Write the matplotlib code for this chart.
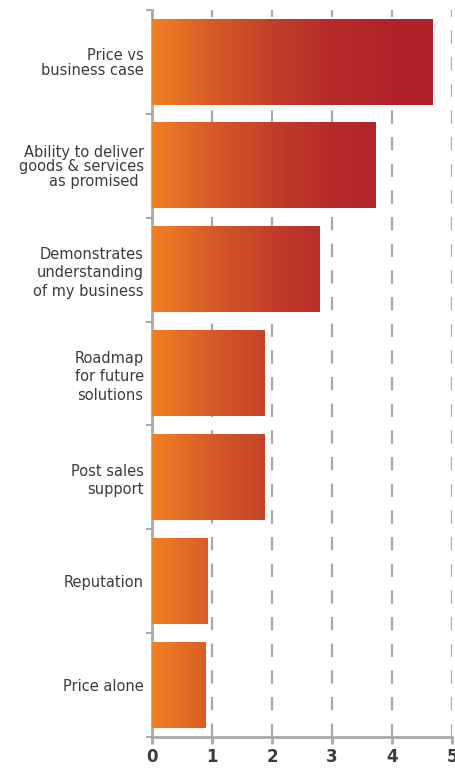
import numpy as np
import matplotlib
matplotlib.use('Agg')
import matplotlib.pyplot as plt
from matplotlib.colors import LinearSegmentedColormap

# dados
categorias = ['Price vs\nbusiness case',
              'Ability to deliver\ngoods & services\nas promised ',
              'Demonstrates\nunderstanding\nof my business',
              'Roadmap\nfor future\nsolutions',
              'Post sales\nsupport',
              'Reputation',
              'Price alone']
valores = [4.68, 3.73, 2.8, 1.87, 1.88, 0.92, 0.9]
ticks_x = [0, 1, 2, 3, 4, 5]

cinza = '#A7A9AC'
texto = '#3C3C3C'

# degrade laranja -> vermelho escuro (posicao absoluta no eixo)
cmap = LinearSegmentedColormap.from_list('laranja', [
    (0.0, '#F28023'), (0.21, '#D65A26'), (0.43, '#C23E29'),
    (0.64, '#B52B29'), (0.85, '#B02429'), (1.0, '#AE2228')])
gmax = 4.7

fig = plt.figure(figsize=(4.55, 7.73), dpi=100)
ax = fig.add_axes([152 / 455, 36 / 773, 300 / 455, 727 / 773])

altura = 0.82
for i, v in enumerate(valores):
    grad = np.linspace(0, v, 256).reshape(1, -1)
    ax.imshow(grad, cmap=cmap, vmin=0, vmax=gmax, aspect='auto',
              extent=(0, v, i + altura / 2, i - altura / 2), zorder=3,
              interpolation='bilinear')

ax.set_xlim(0, 5)
ax.set_ylim(6.5, -0.5)

# grade tracejada
for x in ticks_x[1:]:
    ax.axvline(x, color=cinza, linewidth=1.6, dashes=(6, 6), zorder=1)

ax.set_xticks(ticks_x)
ax.set_xticklabels([str(t) for t in ticks_x], fontsize=12, fontweight='bold', color=texto)
ax.set_yticks(range(len(categorias)))
rotulos = ax.set_yticklabels(categorias, fontsize=10.5, color=texto)
for i, r in enumerate(rotulos):
    r.set_linespacing(0.95 if i < 2 else 1.3)
ax.set_yticks(np.arange(-0.5, len(categorias)), minor=True)

ax.tick_params(axis='y', which='major', length=0, pad=6)
ax.tick_params(axis='y', which='minor', length=4, width=1.5, color=cinza)
ax.tick_params(axis='x', length=5, width=2, color=cinza, pad=3)

for lado in ['top', 'right']:
    ax.spines[lado].set_visible(False)
for lado in ['left', 'bottom']:
    ax.spines[lado].set_color(cinza)
    ax.spines[lado].set_linewidth(2)

fig.savefig('out.png', dpi=100)
